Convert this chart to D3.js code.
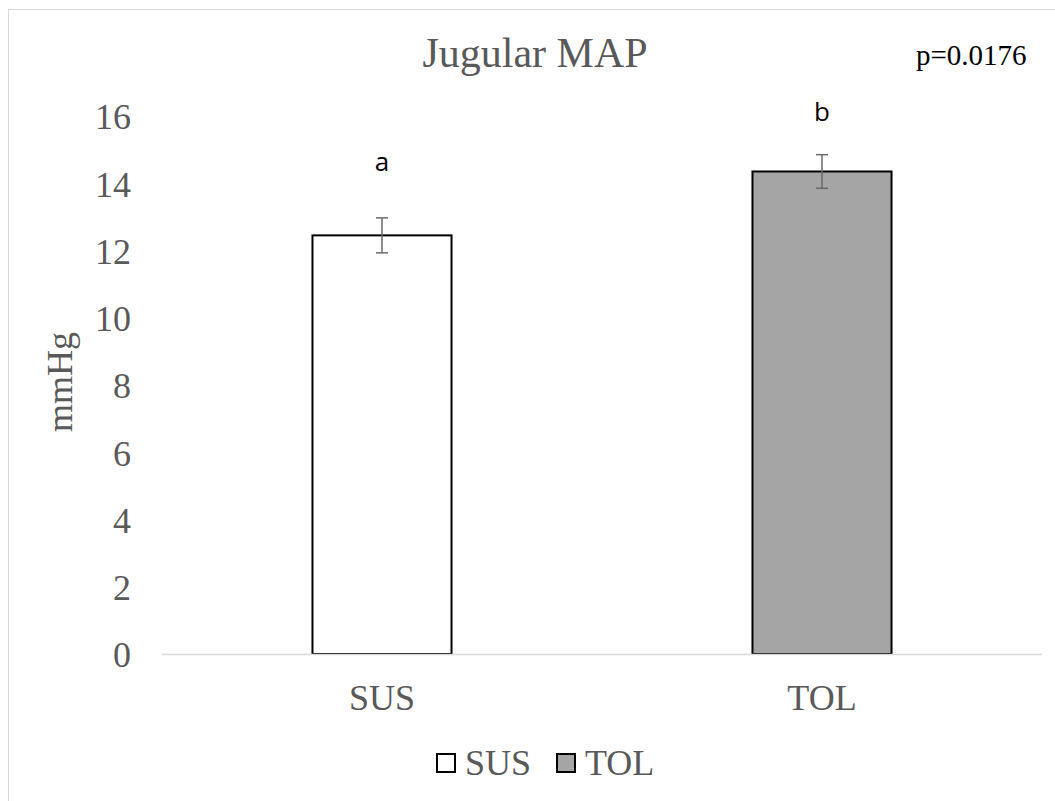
<!DOCTYPE html>
<html lang="en">
<head>
	<meta charset="utf-8">
	<script src="https://d3js.org/d3.v7.min.js"></script>
	<style type="text/css">
		body { margin: 0; background: #fff; }
		svg text { font-family: "Liberation Serif", "Times New Roman", serif; }
		svg text.letter { font-family: "Open Sans", "Noto Sans", sans-serif; }
	</style>
	<title>Jugular MAP</title>
</head>
<body>
	<script type="text/javascript">
		// data
		var groups = ["SUS", "TOL"];
		var means = [12.45, 14.35];
		var errors = [0.52, 0.5];
		var letters = ["a", "b"];
		var letterAt = [14.35, 15.85]; // letter baselines, in mmHg units
		var fills = ["#ffffff", "#a5a5a5"];
		var yTicks = [0, 2, 4, 6, 8, 10, 12, 14, 16];
		var title = "Jugular MAP";
		var pText = "p=0.0176";
		var yLabel = "mmHg";

		var w = 1055;
		var h = 801;
		var serif = "'Liberation Serif', 'Times New Roman', serif";

		var svg = d3.select("body")
			.append("svg")
			.attr("width", w)
			.attr("height", h);

		// chart area border (runs off the picture right and bottom)
		svg.append("rect")
			.attr("x", 8.5)
			.attr("y", 9.5)
			.attr("width", 1100)
			.attr("height", 900)
			.attr("fill", "none")
			.attr("stroke", "#d9d9d9")
			.attr("stroke-width", 1);

		var x = d3.scaleBand()
			.domain(groups)
			.range([162, 1042])
			.paddingInner(0.684)
			.paddingOuter(0.342);

		var y = d3.scaleLinear()
			.domain([0, 16])
			.range([654, 116]);

		// y tick labels (no axis line)
		var yAxis = svg.append("g")
			.attr("transform", "translate(131,0)")
			.call(d3.axisLeft(y).tickValues(yTicks).tickSize(0).tickPadding(0));
		yAxis.attr("font-family", null);
		yAxis.select(".domain").remove();
		yAxis.selectAll("text")
			.style("font-family", serif)
			.attr("font-size", 36)
			.attr("fill", "#595959")
			.attr("dy", "0.36em");

		// bars
		svg.selectAll("rect.bar")
			.data(groups)
			.enter()
			.append("rect")
			.attr("class", "bar")
			.attr("x", function(d) { return x(d); })
			.attr("y", function(d, i) { return y(means[i]); })
			.attr("width", x.bandwidth())
			.attr("height", function(d, i) { return y(0) - y(means[i]); })
			.attr("fill", function(d, i) { return fills[i]; })
			.attr("stroke", "#000")
			.attr("stroke-width", 2);

		// x axis line
		svg.append("line")
			.attr("x1", 162).attr("x2", 1042)
			.attr("y1", y(0) + 0.5).attr("y2", y(0) + 0.5)
			.attr("stroke", "#d9d9d9")
			.attr("stroke-width", 1.5);

		// error bars
		var eb = svg.selectAll("g.err")
			.data(groups)
			.enter()
			.append("g")
			.attr("class", "err")
			.attr("stroke", "#6a6a6a")
			.attr("stroke-width", 1.5);
		eb.append("line")
			.attr("x1", function(d) { return x(d) + x.bandwidth() / 2; })
			.attr("x2", function(d) { return x(d) + x.bandwidth() / 2; })
			.attr("y1", function(d, i) { return y(means[i] + errors[i]); })
			.attr("y2", function(d, i) { return y(means[i] - errors[i]); });
		eb.append("line")
			.attr("x1", function(d) { return x(d) + x.bandwidth() / 2 - 6; })
			.attr("x2", function(d) { return x(d) + x.bandwidth() / 2 + 6; })
			.attr("y1", function(d, i) { return y(means[i] + errors[i]); })
			.attr("y2", function(d, i) { return y(means[i] + errors[i]); });
		eb.append("line")
			.attr("x1", function(d) { return x(d) + x.bandwidth() / 2 - 6; })
			.attr("x2", function(d) { return x(d) + x.bandwidth() / 2 + 6; })
			.attr("y1", function(d, i) { return y(means[i] - errors[i]); })
			.attr("y2", function(d, i) { return y(means[i] - errors[i]); });

		// significance letters
		svg.selectAll("text.letter")
			.data(groups)
			.enter()
			.append("text")
			.attr("class", "letter")
			.attr("x", function(d) { return x(d) + x.bandwidth() / 2; })
			.attr("y", function(d, i) { return y(letterAt[i]); })
			.attr("text-anchor", "middle")
			.attr("font-size", 26)
			.attr("fill", "#000")
			.text(function(d, i) { return letters[i]; });

		// x category labels
		svg.selectAll("text.xlab")
			.data(groups)
			.enter()
			.append("text")
			.attr("class", "xlab")
			.attr("x", function(d) { return x(d) + x.bandwidth() / 2; })
			.attr("y", 710)
			.attr("text-anchor", "middle")
			.style("font-family", serif)
			.attr("font-size", 36)
			.attr("fill", "#595959")
			.text(function(d) { return d; });

		// title
		svg.append("text")
			.attr("x", 535)
			.attr("y", 67)
			.attr("text-anchor", "middle")
			.style("font-family", serif)
			.attr("font-size", 42)
			.attr("fill", "#595959")
			.text(title);

		// p value
		svg.append("text")
			.attr("x", 916)
			.attr("y", 65)
			.style("font-family", serif)
			.attr("font-size", 29)
			.attr("fill", "#000")
			.text(pText);

		// y label
		svg.append("text")
			.attr("transform", "translate(72,382) rotate(-90)")
			.attr("text-anchor", "middle")
			.style("font-family", serif)
			.attr("font-size", 36)
			.attr("fill", "#595959")
			.text(yLabel);

		// legend
		var legX = [437, 557];
		var leg = svg.selectAll("g.leg")
			.data(groups)
			.enter()
			.append("g")
			.attr("class", "leg")
			.attr("transform", function(d, i) { return "translate(" + legX[i] + ",754)"; });
		leg.append("rect")
			.attr("width", 18)
			.attr("height", 18)
			.attr("fill", function(d, i) { return fills[i]; })
			.attr("stroke", "#000")
			.attr("stroke-width", 2);
		leg.append("text")
			.attr("x", 28)
			.attr("y", 21)
			.style("font-family", serif)
			.attr("font-size", 36)
			.attr("fill", "#595959")
			.text(function(d) { return d; });
	</script>
</body>
</html>
